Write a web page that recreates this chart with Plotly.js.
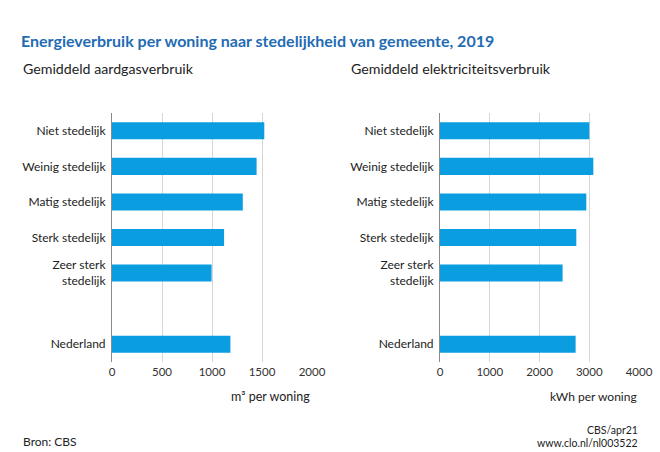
<!DOCTYPE html>
<html>
<head>
<meta charset="utf-8">
<script src="https://cdn.plot.ly/plotly-3.0.1.min.js"></script>
<style>html,body{margin:0;padding:0;background:#fff}#chart{width:660px;height:452px}</style>
</head>
<body>
<div id="chart"></div>
<script>
// Data
const categories = ["Niet stedelijk", "Weinig stedelijk", "Matig stedelijk", "Sterk stedelijk", "Zeer sterk<br>stedelijk", "Nederland"];
const categoryOrder = ["Niet stedelijk", "Weinig stedelijk", "Matig stedelijk", "Sterk stedelijk", "Zeer sterk<br>stedelijk", " ", "Nederland"];
const gasValues = [1523, 1446, 1308, 1121, 996, 1184];          // m3 per woning
const elecValues = [3001, 3082, 2941, 2740, 2464, 2726];        // kWh per woning
const gasTicks = [0, 500, 1000, 1500, 2000];
const elecTicks = [0, 1000, 2000, 3000, 4000];

const FONT = "Lato, 'Open Sans', sans-serif";
const BAR = "#0a9ddf";
const W = 660, H = 452;
const px = v => v / W;
const py = v => 1 - v / H;

const traces = [
  {type: "bar", orientation: "h", x: gasValues, y: categories, xaxis: "x", yaxis: "y",
   marker: {color: BAR}, hoverinfo: "skip"},
  {type: "bar", orientation: "h", x: elecValues, y: categories, xaxis: "x2", yaxis: "y2",
   marker: {color: BAR}, hoverinfo: "skip"}
];

const yCommon = {
  type: "category", categoryorder: "array", categoryarray: categoryOrder,
  range: [6.5, -0.5], showgrid: false, zeroline: false,
  showline: true, linecolor: "#8a8a8a", linewidth: 1,
  ticks: "", ticklabelstandoff: 3,
  tickfont: {family: FONT, size: 12, color: "#222"}, fixedrange: true
};
const xCommon = {
  showgrid: true, gridcolor: "#d6d6d6", gridwidth: 1, zeroline: false,
  showline: false, ticks: "", tickmode: "array",
  tickfont: {family: FONT, size: 11.5, color: "#333"}, ticklabelstandoff: 1, fixedrange: true
};

const layout = {
  width: W, height: H,
  margin: {l: 0, r: 0, t: 0, b: 0},
  paper_bgcolor: "#fff", plot_bgcolor: "#fff",
  showlegend: false,
  bargap: 0.52,
  font: {family: FONT},
  title: {text: "Energieverbruik per woning naar stedelijkheid van gemeente, 2019",
          x: px(21), xanchor: "left", xref: "paper", y: py(41), yanchor: "middle", yref: "paper",
          font: {family: FONT, size: 16, color: "#1f6cb4", weight: 700}},
  xaxis: Object.assign({}, xCommon, {domain: [px(112), px(312)], range: [0, 2000], tickvals: gasTicks, anchor: "y"}),
  yaxis: Object.assign({}, yCommon, {domain: [py(362), py(113)], anchor: "x"}),
  xaxis2: Object.assign({}, xCommon, {domain: [px(440), px(639)], range: [0, 4000], tickvals: elecTicks, anchor: "y2"}),
  yaxis2: Object.assign({}, yCommon, {domain: [py(362), py(113)], anchor: "x2"}),
  annotations: [
    {text: "Gemiddeld aardgasverbruik", xref: "paper", yref: "paper", x: px(21), y: py(68),
     xanchor: "left", yanchor: "middle", showarrow: false, font: {family: FONT, size: 14.2, color: "#222"}},
    {text: "Gemiddeld elektriciteitsverbruik", xref: "paper", yref: "paper", x: px(349), y: py(68),
     xanchor: "left", yanchor: "middle", showarrow: false, font: {family: FONT, size: 14.2, color: "#222"}},
    {text: "m³ per woning", xref: "paper", yref: "paper", x: px(312), y: py(396),
     xanchor: "right", yanchor: "middle", showarrow: false, font: {family: FONT, size: 12.5, color: "#222"}},
    {text: "kWh per woning", xref: "paper", yref: "paper", x: px(639), y: py(396),
     xanchor: "right", yanchor: "middle", showarrow: false, font: {family: FONT, size: 12, color: "#222"}},
    {text: "Bron: CBS", xref: "paper", yref: "paper", x: px(21), y: py(441),
     xanchor: "left", yanchor: "middle", showarrow: false, font: {family: FONT, size: 12, color: "#222"}},
    {text: "CBS/apr21", xref: "paper", yref: "paper", x: px(640), y: py(430),
     xanchor: "right", yanchor: "middle", showarrow: false, font: {family: FONT, size: 10.5, color: "#222"}},
    {text: "www.clo.nl/nl003522", xref: "paper", yref: "paper", x: px(640), y: py(443),
     xanchor: "right", yanchor: "middle", showarrow: false, font: {family: FONT, size: 10.5, color: "#222"}}
  ]
};

Plotly.newPlot("chart", traces, layout, {staticPlot: true, displayModeBar: false});
</script>
</body>
</html>
